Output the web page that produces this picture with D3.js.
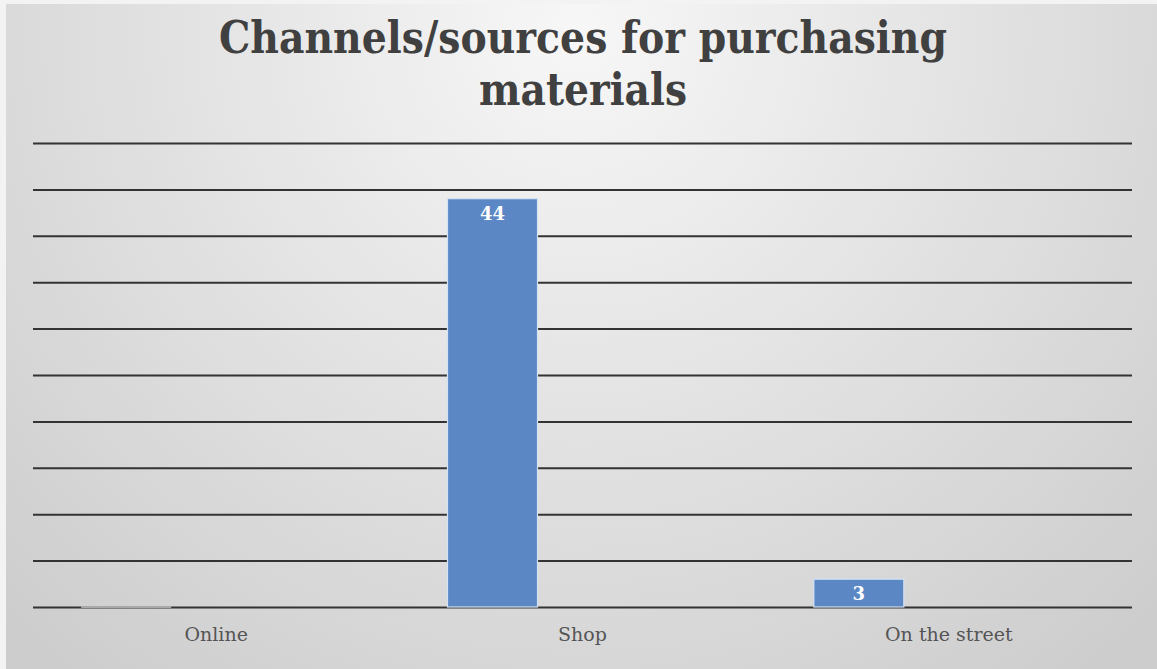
<!DOCTYPE html>
<html>
<head>
<meta charset="utf-8">
<script src="https://cdn.jsdelivr.net/npm/d3@7"></script>
<style>
  html, body { margin: 0; padding: 0; background: #f4f4f4; }
  svg { display: block; }
</style>
</head>
<body>
<svg id="chart" width="1157" height="669"></svg>
<script>
// Purchase channels and respondent counts
const categories = ["Online", "Shop", "On the street"];
const series = ["Series 1", "Series 2", "Series 3"];
const series1Values = [0, 44, 3];
const yTicks = [0, 5, 10, 15, 20, 25, 30, 35, 40, 45, 50];
const titleLines = ["Channels/sources for purchasing", "materials"];

const W = 1157, H = 669;
const margin = { top: 143, right: 25, bottom: 62, left: 33 };

const svg = d3.select("#chart");

// Background with soft radial shading
const defs = svg.append("defs");
const grad = defs.append("radialGradient")
  .attr("id", "bg")
  .attr("gradientUnits", "userSpaceOnUse")
  .attr("cx", W / 2).attr("cy", 30)
  .attr("r", 820)
  .attr("fx", W / 2).attr("fy", 30);
grad.append("stop").attr("offset", "0%").attr("stop-color", "#f7f7f7");
grad.append("stop").attr("offset", "40%").attr("stop-color", "#e6e6e6");
grad.append("stop").attr("offset", "100%").attr("stop-color", "#cdcdcd");

svg.append("rect").attr("width", W).attr("height", H).attr("fill", "#f3f3f3");
svg.append("rect")
  .attr("x", 6).attr("y", 4)
  .attr("width", W - 6).attr("height", H - 4)
  .attr("fill", "url(#bg)");

const x0 = d3.scaleBand()
  .domain(categories)
  .range([margin.left, W - margin.right])
  .paddingInner(0.263)
  .paddingOuter(0.1315);

const x1 = d3.scaleBand()
  .domain(series)
  .range([0, x0.bandwidth()]);

const y = d3.scaleLinear()
  .domain([0, 50])
  .range([H - margin.bottom, margin.top]);

// Horizontal gridlines
const gridAxis = d3.axisLeft(y)
  .tickValues(yTicks)
  .tickSize(-(W - margin.left - margin.right))
  .tickFormat("");
const grid = svg.append("g")
  .attr("transform", `translate(${margin.left},0)`)
  .call(gridAxis);
grid.select(".domain").remove();
grid.selectAll(".tick line")
  .attr("stroke", "#333333")
  .attr("stroke-width", 2);

// Bars
const barData = categories.map((c, i) => ({ c, v: series1Values[i] }));
const bars = svg.append("g");
bars.selectAll("rect")
  .data(barData)
  .join("rect")
  .attr("x", d => x0(d.c) + x1("Series 1"))
  .attr("y", d => y(d.v) - (d.v === 0 ? 1 : 0))
  .attr("width", x1.bandwidth())
  .attr("height", d => Math.max(2, y(0) - y(d.v)))
  .attr("fill", d => d.v === 0 ? "#a8a8a8" : "#5b87c5")
  .attr("stroke", d => d.v === 0 ? "none" : "#d4e2f4")
  .attr("stroke-width", 1.2);

// Value labels inside the bar ends
bars.selectAll("text")
  .data(barData.filter(d => d.v > 0))
  .join("text")
  .attr("x", d => x0(d.c) + x1("Series 1") + x1.bandwidth() / 2)
  .attr("y", d => y(d.v) + 21)
  .attr("text-anchor", "middle")
  .attr("font-family", "'DejaVu Serif', serif")
  .attr("font-weight", "bold")
  .attr("font-size", 18)
  .attr("fill", "#ffffff")
  .text(d => d.v);

// Category axis labels
const xAxis = d3.axisBottom(x0).tickSize(0).tickPadding(21);
const xg = svg.append("g")
  .attr("transform", `translate(0,${H - margin.bottom})`)
  .call(xAxis);
xg.select(".domain").remove();
xg.selectAll("text")
  .attr("font-family", "'DejaVu Serif', serif")
  .attr("font-size", 19)
  .attr("fill", "#555555");

// Title
const title = svg.append("g")
  .attr("font-family", "'DejaVu Serif', serif")
  .attr("font-weight", "bold")
  .attr("font-size", 44)
  .attr("fill", "#404040")
  .attr("text-anchor", "middle");
title.append("text")
  .attr("x", 583).attr("y", 53)
  .attr("textLength", 728)
  .attr("lengthAdjust", "spacingAndGlyphs")
  .text(titleLines[0]);
title.append("text")
  .attr("x", 583).attr("y", 105)
  .attr("textLength", 208)
  .attr("lengthAdjust", "spacingAndGlyphs")
  .text(titleLines[1]);
</script>
</body>
</html>
